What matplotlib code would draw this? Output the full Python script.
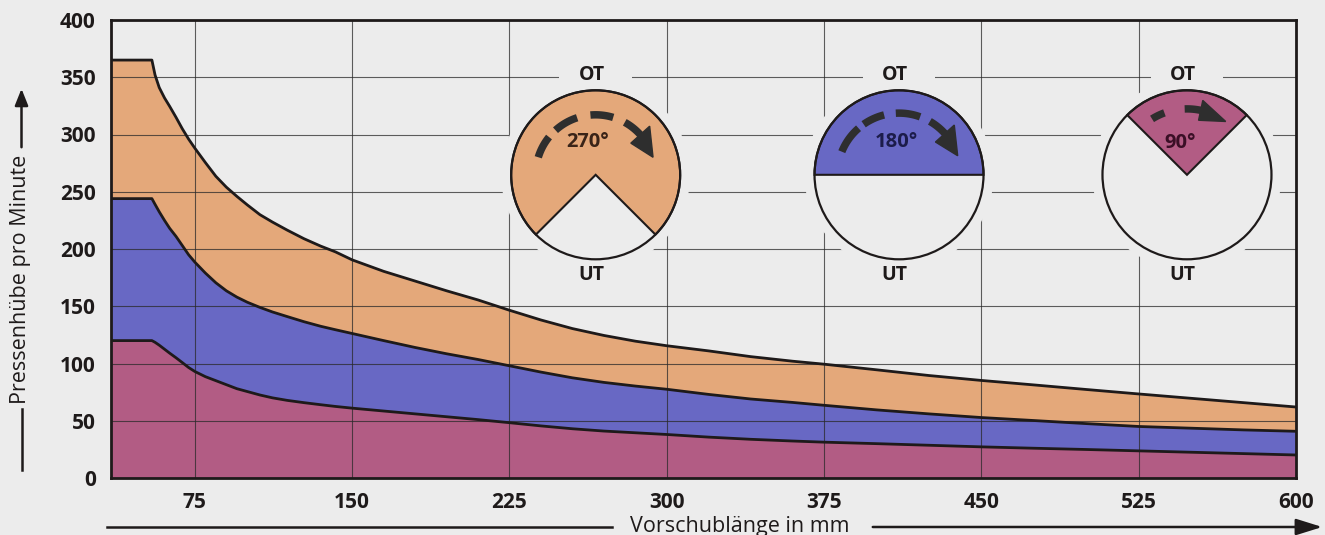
import numpy as np
import matplotlib
matplotlib.use("Agg")
import matplotlib.pyplot as plt
from matplotlib.patches import Circle, Wedge, Polygon, Rectangle, FancyArrowPatch
from matplotlib.lines import Line2D

# ---------------- data ----------------
vorschub_mm = [35, 54.5, 56, 58, 60.5, 63, 66, 69, 72, 75,
               80, 85, 90, 95, 100, 106, 112, 119, 127, 135,
               142, 150, 165, 180, 195, 210, 225, 240, 255, 270,
               285, 300, 320, 340, 360, 375, 400, 425, 450, 475,
               500, 525, 550, 575, 600]
hub_270 = [365, 365, 352, 341, 332, 324.5, 315, 305, 296, 288,
           275.5, 263.5, 254, 246, 238.5, 230, 223.5, 216.5, 209, 202.5,
           197.5, 190.5, 180.5, 172, 163.5, 155.5, 146.5, 138, 130.5, 124.5,
           119.5, 115.5, 111, 106, 102, 99.4, 94.5, 89.5, 85.2, 81.3,
           77.3, 73.4, 69.6, 65.8, 62]
hub_180 = [244, 244, 239, 232.5, 225, 218, 211, 203, 195, 188.5,
           179, 170.5, 163.5, 158, 153.5, 149, 145, 141, 136.5, 132.5,
           129.5, 126.2, 120, 114, 108.5, 103.5, 98, 92.5, 87.5, 83.5,
           80.3, 77.5, 73, 69, 66, 63.5, 59.5, 56, 52.8, 50.2,
           47.5, 45, 43.5, 42, 40.8]
hub_90 = [120, 120, 118.5, 116, 112.5, 109, 105, 100.8, 96.5, 93,
          88.5, 85, 81.5, 78, 75.5, 72.5, 70, 67.8, 65.8, 64,
          62.5, 61, 58.5, 56, 53.5, 51, 48.3, 45.5, 43, 41,
          39.5, 38, 35.7, 33.8, 32.3, 31.3, 30, 28.6, 27.2, 26,
          24.9, 23.7, 22.5, 21.3, 20.1]

x_ticks = [75, 150, 225, 300, 375, 450, 525, 600]
y_ticks = [0, 50, 100, 150, 200, 250, 300, 350, 400]

kurbelwinkel = [270, 180, 90]
winkel_labels = ["270°", "180°", "90°"]

# ---------------- style ----------------
BG = "#ececec"
C_OR = "#e4a87a"
C_BL = "#6868c4"
C_MA = "#b25c84"
DARK = "#1e1a1a"
FONT = ["Open Sans", "DejaVu Sans"]
plt.rcParams["font.family"] = FONT

W, H = 1325, 535
fig = plt.figure(figsize=(W / 100, H / 100), dpi=100, facecolor=BG)
ax = fig.add_axes([111 / W, 1 - 478 / H, (1296 - 111) / W, (478 - 20) / H])
ax.set_facecolor(BG)

x = np.array(vorschub_mm)
y3 = np.array(hub_270)
y2 = np.array(hub_180)
y1 = np.array(hub_90)

ax.fill_between(x, 0, y1, color=C_MA, lw=0, zorder=1)
ax.fill_between(x, y1, y2, color=C_BL, lw=0, zorder=1)
ax.fill_between(x, y2, y3, color=C_OR, lw=0, zorder=1)
for yy in (y1, y2, y3):
    ax.plot(x, yy, color=DARK, lw=2.0, zorder=3, solid_joinstyle="round")

ax.set_xlim(vorschub_mm[0], 600)
ax.set_ylim(0, 400)
ax.set_xticks(x_ticks)
ax.set_yticks(y_ticks)
ax.set_axisbelow(False)
ax.grid(True, color="#2a2a2a", lw=0.8, alpha=0.75)
ax.tick_params(length=0, labelsize=15, colors=DARK)
ax.tick_params(axis="y", pad=11)
ax.tick_params(axis="x", pad=10)
for lab in ax.get_xticklabels() + ax.get_yticklabels():
    lab.set_fontweight("bold")
for sp in ax.spines.values():
    sp.set_linewidth(2.0)
    sp.set_color(DARK)
    sp.set_zorder(4)

# ---------------- crank dials ----------------
dial_centers = [(0.409, 0.662), (0.665, 0.662), (0.908, 0.662)]
dial_fill = [C_OR, C_BL, C_MA]
dial_text = ["#3a2418", "#1c1c4a", "#3a0f26"]
label_pos = [(-0.10, 0.385), (-0.03, 0.385), (-0.08, 0.38)]
arc_r = [0.71, 0.73, 0.78]
arc_dashes = [[(163, 141), (132, 108), (95, 73), (61, 42)],
              [(158, 131), (125, 104), (93, 70), (60, 42)],
              [(122, 110), (92, 78)]]
arc_head = [(42, 17, 0.30), (42, 18, 0.30), (78, 54, 0.24)]

L = 1.42
size_px = 2 * L * 84.5
ax_w_px = 1296 - 111
ax_h_px = 478 - 20
iw, ih = size_px / ax_w_px, size_px / ax_h_px

for k, (cx, cy) in enumerate(dial_centers):
    iax = ax.inset_axes([cx - iw / 2, cy - ih / 2, iw, ih], transform=ax.transAxes)
    iax.set_xlim(-L, L)
    iax.set_ylim(-L, L)
    iax.axis("off")
    iax.patch.set_visible(False)
    iax.add_patch(Circle((0, 0), 1.12, fc=BG, ec="none", zorder=1))
    iax.add_patch(Rectangle((-0.43, 1.18 - 0.16), 0.86, 0.32, fc=BG, ec="none", zorder=1))
    ang = kurbelwinkel[k]
    iax.add_patch(Wedge((0, 0), 1.0, 90 - ang / 2, 90 + ang / 2, fc=dial_fill[k],
                        ec=DARK, lw=1.5, zorder=2))
    iax.add_patch(Circle((0, 0), 1.0, fc="none", ec=DARK, lw=1.6, zorder=3))
    R = arc_r[k]
    for a0, a1 in arc_dashes[k]:
        t = np.radians(np.linspace(a0, a1, 30))
        iax.plot(R * np.cos(t), R * np.sin(t), color="#2e2e2e", lw=5.4,
                 solid_capstyle="butt", zorder=4)
    base, tip, wd = arc_head[k]
    tb, tt = np.radians(base), np.radians(tip)
    head = [((R + wd / 2) * np.cos(tb), (R + wd / 2) * np.sin(tb)),
            (R * np.cos(tt), R * np.sin(tt)),
            ((R - wd / 2) * np.cos(tb), (R - wd / 2) * np.sin(tb))]
    iax.add_patch(Polygon(head, closed=True, fc="#2e2e2e", ec="#2e2e2e", lw=1, zorder=4))
    lx, ly = label_pos[k]
    iax.text(lx, ly, winkel_labels[k], ha="center", va="center", fontsize=14.5,
             fontweight="bold", color=dial_text[k], zorder=5)
    iax.text(-0.05, 1.18, "OT", ha="center", va="center", fontsize=14,
             fontweight="bold", color=DARK, zorder=5)
    iax.text(-0.05, -1.19, "UT", ha="center", va="center", fontsize=14,
             fontweight="bold", color=DARK, zorder=5)

# ---------------- axis titles with arrows ----------------
def fp(px, py):
    return (px / W, 1 - py / H)

fig.text(*fp(21, 279), "Pressenhübe pro Minute", rotation=90, ha="center",
         va="center", fontsize=15.5, color=DARK)
fig.add_artist(Line2D(*zip(fp(21.5, 470), fp(21.5, 409)), transform=fig.transFigure,
                      color=DARK, lw=1.8))
fig.add_artist(FancyArrowPatch(fp(21.5, 150), fp(21.5, 86),
               transform=fig.transFigure, arrowstyle="-|>,head_length=10,head_width=4",
               color=DARK, lw=1.8, mutation_scale=1))

fig.text(*fp(740, 532), "Vorschublänge in mm", ha="center", va="baseline",
         fontsize=15.5, color=DARK)
fig.add_artist(Line2D(*zip(fp(107, 527), fp(612, 527)), transform=fig.transFigure,
                      color=DARK, lw=1.8))
fig.add_artist(FancyArrowPatch(fp(870, 527), fp(1325, 527),
               transform=fig.transFigure, arrowstyle="-|>,head_length=16,head_width=5",
               color=DARK, lw=1.8, mutation_scale=1))

fig.savefig("out.png", dpi=100, facecolor=BG)
